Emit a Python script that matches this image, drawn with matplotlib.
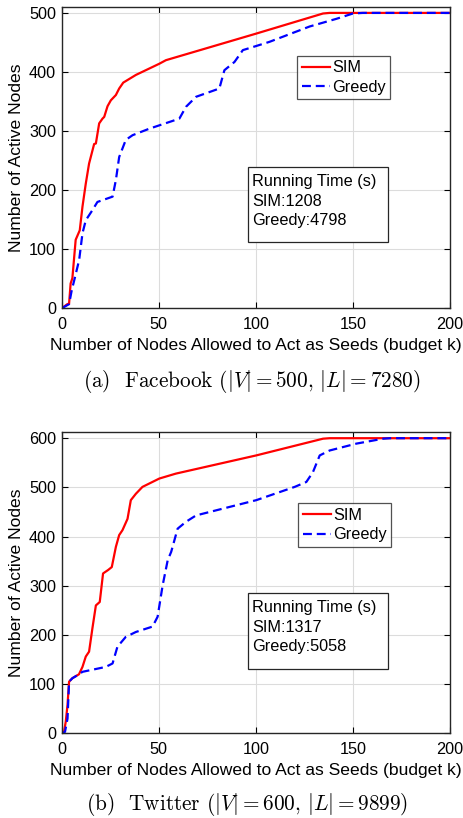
import matplotlib
matplotlib.use("Agg")
import matplotlib.pyplot as plt
from matplotlib.patches import Rectangle

plt.rcParams['font.family'] = ['Liberation Sans', 'DejaVu Sans']
plt.rcParams['mathtext.fontset'] = 'cm'

# Facebook
fb_sim_x = [0, 2.9, 3.8, 4.6, 5.5, 7.2, 9.3, 10.7, 12.4, 14.1, 16.7, 17.6, 19.3, 21, 21.9, 23.6, 25.3, 27.9, 29.6, 31.7, 38.2, 50.3, 53.7, 100.2, 134.6, 138, 200]
fb_sim_y = [0, 7, 8, 42, 51, 116, 132, 172, 211, 245, 278, 279, 313, 321, 324, 342, 352, 361, 372, 382, 395, 414, 420, 465, 499, 500, 500]
fb_gr_x = [0, 3.8, 5.2, 6.5, 9, 10.7, 12.4, 15.8, 18.4, 26.2, 27.9, 29.6, 33, 36.5, 45.1, 60.6, 64, 69.2, 81.2, 83.8, 89, 93.3, 100.2, 107, 127.7, 141.5, 150, 155, 200]
fb_gr_y = [0, 7, 31, 48, 82, 127, 149, 166, 180, 189, 217, 256, 285, 293, 304, 321, 341, 358, 372, 403, 417, 437, 444, 451, 477, 490, 499, 500, 500]

# Twitter
tw_sim_x = [0, 1.2, 2.1, 3, 3.8, 5.5, 8.9, 10.7, 12.4, 14.1, 15.8, 17.6, 19.6, 21.3, 23.9, 25.8, 27.9, 29.6, 31.3, 33.9, 35.6, 38.2, 41.6, 50.3, 58.8, 100.2, 134.6, 138, 200]
tw_sim_y = [0, 3, 24, 58, 105, 112, 120, 135, 156, 166, 213, 260, 267, 325, 332, 338, 379, 403, 413, 436, 474, 487, 501, 518, 528, 565, 599, 600, 600]
tw_gr_x = [0, 1.7, 3, 3.8, 5.5, 8.9, 10.7, 22.7, 26.2, 28.7, 33, 38.2, 46.8, 49.4, 52, 54.6, 56.4, 59.7, 64, 69.2, 100.2, 120, 126, 129.4, 132.9, 138, 151.8, 165.6, 169, 200]
tw_gr_y = [0, 3, 30, 105, 112, 120, 125, 135, 142, 176, 196, 206, 217, 237, 301, 352, 369, 416, 430, 443, 474, 501, 511, 531, 565, 575, 589, 599, 600, 600]

xticks = [0, 50, 100, 150, 200]
fb_yticks = [0, 100, 200, 300, 400, 500]
tw_yticks = [0, 100, 200, 300, 400, 500, 600]
xlabel = "Number of Nodes Allowed to Act as Seeds (budget k)"
ylabel = "Number of Active Nodes"
series_labels = ['SIM', 'Greedy']
fb_times = [1208, 4798]
tw_times = [1317, 5058]
fb_caption = r"(a)  Facebook $(|V|=500,\,|L|=7280)$"
tw_caption = r"(b)  Twitter $(|V|=600,\,|L|=9899)$"

W, H = 463, 818
fig = plt.figure(figsize=(W / 100, H / 100), dpi=100)
FS = 11.7

def px_axes(l, t, r, b):
    return fig.add_axes([l / W, 1 - b / H, (r - l) / W, (b - t) / H])

def style(ax, yticks, ylim):
    ax.set_xlim(0, 200)
    ax.set_ylim(*ylim)
    ax.set_xticks(xticks)
    ax.set_yticks(yticks)
    ax.grid(True, color='#dcdcdc', linewidth=0.8)
    ax.set_axisbelow(True)
    ax.tick_params(direction='in', top=True, right=True, labelsize=FS, length=4, width=0.8)
    ax.tick_params(axis='x', pad=6.5)
    ax.tick_params(axis='y', pad=4)
    for s in ax.spines.values():
        s.set_linewidth(1.0)
        s.set_color('#262626')
    ax.set_xlabel(xlabel, fontsize=12.6, labelpad=4)
    ax.set_ylabel(ylabel, fontsize=12.6, labelpad=3.5)

def legend(ax, l, t):
    pos = ax.get_position()
    x0 = (l / W - pos.x0) / pos.width
    y1 = ((1 - t / H) - pos.y0) / pos.height
    leg = ax.legend(loc='upper left', bbox_to_anchor=(x0, y1), fontsize=FS,
                    frameon=True, fancybox=False, edgecolor='#262626',
                    handlelength=1.75, handletextpad=0.12, borderpad=0.28,
                    labelspacing=0.28, borderaxespad=0)
    leg.get_frame().set_linewidth(0.9)

def textbox(l, t, r, b, lines):
    fig.add_artist(Rectangle((l / W, 1 - b / H), (r - l) / W, (b - t) / H,
                             transform=fig.transFigure, facecolor='white',
                             edgecolor='#262626', linewidth=0.9, zorder=5))
    fig.text((l + 4.5) / W, 1 - (t + 7) / H, "\n".join(lines), fontsize=FS,
             va='top', ha='left', linespacing=1.36, zorder=6)

def panel(box, sx, sy, gx, gy, yticks, ylim, times, leg_pos, tb):
    ax = px_axes(*box)
    ax.plot(sx, sy, color='#ff0000', lw=1.6, label=series_labels[0])
    ax.plot(gx, gy, color='#0000ff', lw=1.6, ls=(0, (4.0, 2.2)), label=series_labels[1])
    style(ax, yticks, ylim)
    legend(ax, *leg_pos)
    textbox(*tb, ["Running Time (s)", f"SIM:{times[0]}", f"Greedy:{times[1]}"])
    return ax

ax1 = panel((61.7, 7.0, 450, 308.3), fb_sim_x, fb_sim_y, fb_gr_x, fb_gr_y,
            fb_yticks, (0, 510), fb_times, (297.3, 55.7), (247.7, 167.3, 388.3, 242.3))
ax2 = panel((61.7, 432.3, 450, 733.3), tw_sim_x, tw_sim_y, tw_gr_x, tw_gr_y,
            tw_yticks, (0, 612), tw_times, (298, 503.3), (247.7, 593.3, 388.3, 669))

fig.text(252 / W, 1 - 381.7 / H, fb_caption, fontsize=15.3,
         family='cmr10', ha='center', va='center')
fig.text(246.7 / W, 1 - 805 / H, tw_caption, fontsize=15.3,
         family='cmr10', ha='center', va='center')

fig.savefig('out.png', dpi=100)
